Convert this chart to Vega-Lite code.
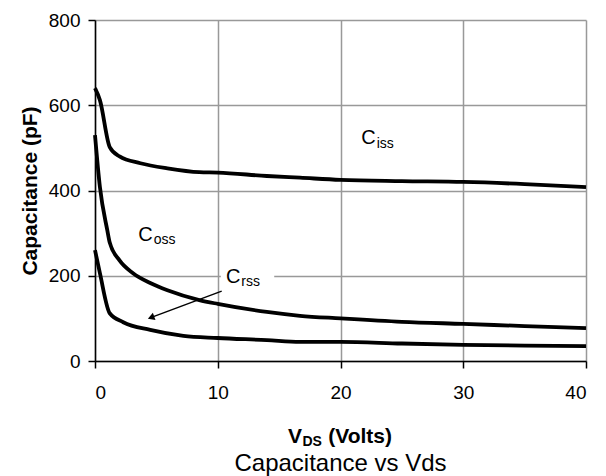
{
  "$schema": "https://vega.github.io/schema/vega-lite/v6.json",
  "width": 491,
  "height": 341,
  "autosize": "none",
  "padding": {"left": 95, "top": 20, "right": 20, "bottom": 115},
  "title": {
    "text": "Capacitance vs Vds",
    "orient": "bottom",
    "anchor": "middle",
    "fontSize": 24,
    "fontWeight": "normal",
    "color": "black",
    "offset": 3
  },
  "datasets": {
    "curves": [
      {"series": "Ciss", "v": 0, "c": 640},
      {"series": "Ciss", "v": 0.4, "c": 612},
      {"series": "Ciss", "v": 1.2, "c": 502},
      {"series": "Ciss", "v": 2, "c": 480},
      {"series": "Ciss", "v": 3.7, "c": 464},
      {"series": "Ciss", "v": 5.9, "c": 452},
      {"series": "Ciss", "v": 8.5, "c": 443},
      {"series": "Ciss", "v": 10, "c": 442},
      {"series": "Ciss", "v": 14, "c": 434},
      {"series": "Ciss", "v": 16.7, "c": 430},
      {"series": "Ciss", "v": 20, "c": 425},
      {"series": "Ciss", "v": 25, "c": 422},
      {"series": "Ciss", "v": 30, "c": 420},
      {"series": "Ciss", "v": 35, "c": 415},
      {"series": "Ciss", "v": 40, "c": 408},
      {"series": "Coss", "v": 0, "c": 530},
      {"series": "Coss", "v": 0.4, "c": 408},
      {"series": "Coss", "v": 1, "c": 307},
      {"series": "Coss", "v": 1.2, "c": 278},
      {"series": "Coss", "v": 2, "c": 236},
      {"series": "Coss", "v": 3.1, "c": 206},
      {"series": "Coss", "v": 4.5, "c": 183},
      {"series": "Coss", "v": 5.9, "c": 166},
      {"series": "Coss", "v": 8.5, "c": 143},
      {"series": "Coss", "v": 10, "c": 134},
      {"series": "Coss", "v": 14, "c": 115},
      {"series": "Coss", "v": 16.7, "c": 106},
      {"series": "Coss", "v": 20, "c": 100},
      {"series": "Coss", "v": 25, "c": 92},
      {"series": "Coss", "v": 30, "c": 87},
      {"series": "Coss", "v": 35, "c": 82},
      {"series": "Coss", "v": 40, "c": 77},
      {"series": "Crss", "v": 0, "c": 260},
      {"series": "Crss", "v": 0.4, "c": 206},
      {"series": "Crss", "v": 1.2, "c": 112},
      {"series": "Crss", "v": 2.3, "c": 91},
      {"series": "Crss", "v": 4.5, "c": 73},
      {"series": "Crss", "v": 7.2, "c": 59},
      {"series": "Crss", "v": 10, "c": 54},
      {"series": "Crss", "v": 14, "c": 49},
      {"series": "Crss", "v": 16.7, "c": 45},
      {"series": "Crss", "v": 20, "c": 45},
      {"series": "Crss", "v": 25, "c": 41},
      {"series": "Crss", "v": 30, "c": 38},
      {"series": "Crss", "v": 35, "c": 36},
      {"series": "Crss", "v": 40, "c": 35}
    ],
    "labelbox": [
      {"v": 10.25, "v2": 14.6, "c": 165, "c2": 232}
    ],
    "arrow": [
      {"v": 10.32, "c": 164, "v2": 4.65, "c2": 103}
    ],
    "labels": [
      {"v": 21.7, "c": 509, "text": "C", "kind": "main"},
      {"v": 22.95, "c": 499, "text": "iss", "kind": "sub"},
      {"v": 3.53, "c": 282, "text": "C", "kind": "main"},
      {"v": 4.78, "c": 274, "text": "oss", "kind": "sub"},
      {"v": 10.67, "c": 184, "text": "C", "kind": "main"},
      {"v": 11.92, "c": 176, "text": "rss", "kind": "sub"},
      {"v": 15.72, "c": -192, "text": "V", "kind": "title"},
      {"v": 16.9, "c": -199, "text": "DS", "kind": "titlesub"},
      {"v": 19.0, "c": -192, "text": "(Volts)", "kind": "title"}
    ]
  },
  "encoding": {
    "x": {
      "field": "v",
      "type": "quantitative",
      "scale": {"domain": [0, 40], "nice": false},
      "axis": {"values": [0, 10, 20, 30, 40], "title": null}
    },
    "y": {
      "field": "c",
      "type": "quantitative",
      "scale": {"domain": [0, 800], "nice": false},
      "axis": {"values": [0, 200, 400, 600, 800], "title": "Capacitance (pF)"}
    }
  },
  "layer": [
    {
      "data": {"name": "labelbox"},
      "mark": {"type": "rect", "fill": "white"},
      "encoding": {
        "x2": {"field": "v2"},
        "y2": {"field": "c2"}
      }
    },
    {
      "data": {"name": "curves"},
      "mark": {"type": "line", "color": "black", "strokeWidth": 3.8, "interpolate": "monotone"},
      "encoding": {
        "detail": {"field": "series", "type": "nominal"}
      }
    },
    {
      "data": {"name": "arrow"},
      "mark": {"type": "rule", "color": "black", "strokeWidth": 1.5},
      "encoding": {
        "x2": {"field": "v2"},
        "y2": {"field": "c2"}
      }
    },
    {
      "data": {"name": "arrow"},
      "mark": {"type": "point", "shape": "triangle", "filled": true, "color": "black", "size": 60, "angle": 250, "opacity": 1},
      "encoding": {
        "x": {"field": "v2", "type": "quantitative"},
        "y": {"field": "c2", "type": "quantitative"}
      }
    },
    {
      "data": {"name": "labels"},
      "transform": [{"filter": "datum.kind == 'main'"}],
      "mark": {"type": "text", "align": "left", "baseline": "alphabetic", "fontSize": 20, "color": "black"},
      "encoding": {"text": {"field": "text"}}
    },
    {
      "data": {"name": "labels"},
      "transform": [{"filter": "datum.kind == 'sub'"}],
      "mark": {"type": "text", "align": "left", "baseline": "alphabetic", "fontSize": 14, "color": "black"},
      "encoding": {"text": {"field": "text"}}
    },
    {
      "data": {"name": "labels"},
      "transform": [{"filter": "datum.kind == 'title'"}],
      "mark": {"type": "text", "align": "left", "baseline": "alphabetic", "fontSize": 21, "fontWeight": "bold", "color": "black"},
      "encoding": {"text": {"field": "text"}}
    },
    {
      "data": {"name": "labels"},
      "transform": [{"filter": "datum.kind == 'titlesub'"}],
      "mark": {"type": "text", "align": "left", "baseline": "alphabetic", "fontSize": 14, "fontWeight": "bold", "color": "black"},
      "encoding": {"text": {"field": "text"}}
    }
  ],
  "config": {
    "font": "Liberation Sans",
    "view": {"stroke": null},
    "axis": {
      "labelFont": "Liberation Sans",
      "titleFont": "Liberation Sans",
      "labelFontSize": 19,
      "labelColor": "black",
      "titleFontSize": 21,
      "titleFontWeight": "bold",
      "titleColor": "black",
      "domainColor": "black",
      "domainWidth": 1.5,
      "tickColor": "black",
      "tickWidth": 1.5,
      "tickSize": 7,
      "gridColor": "#999999",
      "gridWidth": 1.5,
      "gridOpacity": 1
    },
    "axisX": {"labelPadding": 15},
    "axisY": {"labelPadding": 8, "titlePadding": 8}
  }
}
